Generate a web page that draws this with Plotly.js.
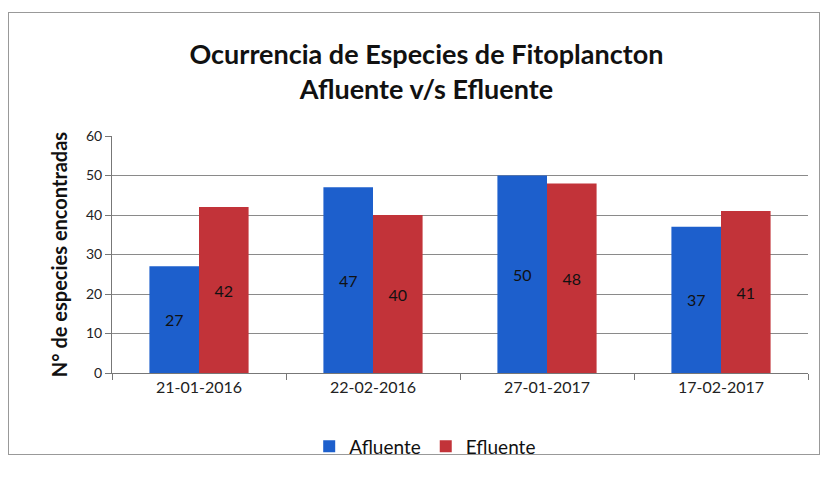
<!DOCTYPE html>
<html>
<head>
<meta charset="utf-8">
<script src="https://cdn.plot.ly/plotly-3.0.1.min.js"></script>
<style>
html,body{margin:0;padding:0;background:#fff;}
#frame{position:absolute;left:8px;top:12px;width:812px;height:443px;border:1px solid #999;box-sizing:border-box;}
#chart{position:absolute;left:0;top:0;width:828px;height:485px;}
</style>
</head>
<body>
<div id="frame"></div>
<div id="chart"></div>
<script>
const categories = ["21-01-2016", "22-02-2016", "27-01-2017", "17-02-2017"];
const afluente = [27, 47, 50, 37];
const efluente = [42, 40, 48, 41];
const yTicks = [0, 10, 20, 30, 40, 50, 60];

const font = "Lato, 'Open Sans', sans-serif";
const traces = [
  {type: "bar", name: "Afluente", x: categories, y: afluente,
   marker: {color: "#1d5fcc"}, text: afluente.map(String),
   textposition: "inside", insidetextanchor: "middle",
   textfont: {color: "#111", size: 16, family: font}},
  {type: "bar", name: "Efluente", x: categories, y: efluente,
   marker: {color: "#c23339"}, text: efluente.map(String),
   textposition: "inside", insidetextanchor: "middle",
   textfont: {color: "#111", size: 16, family: font}}
];

const layout = {
  width: 828, height: 485,
  paper_bgcolor: "rgba(0,0,0,0)", plot_bgcolor: "rgba(0,0,0,0)",
  margin: {l: 112, r: 20, t: 136, b: 112},
  barmode: "group", bargap: 0.43, bargroupgap: 0,
  font: {family: font, color: "#111"},
  title: {text: "<b>Ocurrencia de Especies de Fitoplancton<br>Afluente v/s Efluente</b>",
          x: 0.515, xanchor: "center", yref: "container", y: 0.868, yanchor: "middle",
          font: {size: 27, family: font, color: "#111"}},
  xaxis: {type: "category", tickson: "boundaries", ticks: "outside", ticklen: 6,
          tickcolor: "#777", showline: true, linecolor: "#777", linewidth: 1,
          tickfont: {size: 16, family: font, color: "#222"}, showgrid: false},
  yaxis: {range: [0, 60], tickvals: yTicks, ticks: "outside", ticklen: 6,
          tickcolor: "#777", showline: true, linecolor: "#777",
          gridcolor: "#8a8a8a", gridwidth: 1, zeroline: false,
          tickfont: {size: 14, family: font, color: "#222"},
          title: {text: "<b>N° de especies encontradas</b>", standoff: 12,
                  font: {size: 20, family: font, color: "#111"}}},
  legend: {orientation: "h", x: 0.45, xanchor: "center", y: -0.31, yanchor: "middle",
           font: {size: 19, family: font, color: "#111"}, traceorder: "normal",
           itemwidth: 30},
  showlegend: true
};

Plotly.newPlot("chart", traces, layout, {displayModeBar: false, staticPlot: true});
</script>
</body>
</html>
